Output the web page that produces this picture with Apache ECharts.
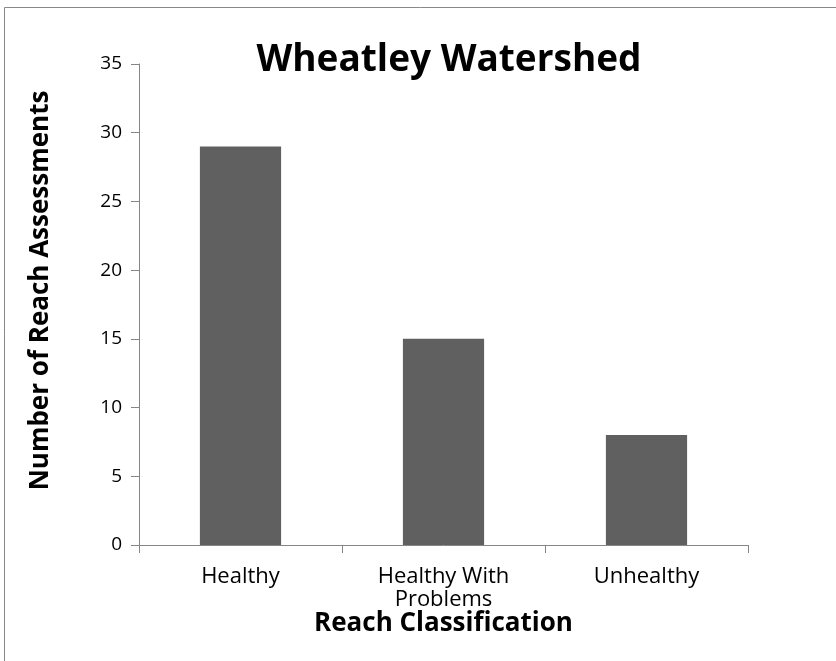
<!DOCTYPE html>
<html><head><meta charset="utf-8">
<script src="https://cdn.jsdelivr.net/npm/echarts@6/dist/echarts.min.js"></script>
<style>html,body{margin:0;padding:0;background:#fff}#c{width:836px;height:661px}</style>
</head><body><div id="c"></div>
<script>
const categories = ['Healthy', 'Healthy With\nProblems', 'Unhealthy'];
const values = [29, 15, 8];
const yTicks = [0, 5, 10, 15, 20, 25, 30, 35];

const font = '"Open Sans", Lato, sans-serif';
const chart = echarts.init(document.getElementById('c'), null, {renderer: 'canvas'});
chart.setOption({
  animation: false,
  backgroundColor: '#fff',
  graphic: [{type: 'rect', shape: {x: 4.5, y: 7.5, width: 840, height: 660}, style: {fill: 'none', stroke: '#888', lineWidth: 1}, silent: true}],
  title: {text: 'Wheatley Watershed', left: 444, top: 37, textAlign: 'center',
    textStyle: {fontFamily: font, fontSize: 37, fontWeight: 'bold', color: '#000'}},
  grid: {left: 139, right: 88, top: 64, bottom: 116},
  xAxis: {type: 'category', data: categories,
    name: 'Reach Classification', nameLocation: 'middle', nameGap: 66, nameMoveOverlap: false,
    nameTextStyle: {fontFamily: font, fontSize: 26, fontWeight: 'bold', color: '#000'},
    axisLine: {lineStyle: {color: '#868686', width: 1}},
    axisTick: {show: true, length: 8, lineStyle: {color: '#868686'}},
    axisLabel: {fontFamily: font, fontSize: 22, color: '#000', margin: 20, lineHeight: 23}},
  yAxis: {type: 'value', min: 0, max: 35, interval: 5,
    name: 'Number of Reach Assessments', nameLocation: 'middle', nameGap: 85,
    nameTextStyle: {fontFamily: font, fontSize: 26, fontWeight: 'bold', color: '#000', padding: [0, 0, 0, 28]},
    axisLine: {show: true, lineStyle: {color: '#868686', width: 1}},
    axisTick: {show: true, length: 8, lineStyle: {color: '#868686'}},
    splitLine: {show: false},
    axisLabel: {fontFamily: font, fontSize: 19, color: '#000', margin: 17,
      formatter: v => yTicks.includes(v) ? String(v) : ''}},
  series: [{type: 'bar', data: values, barWidth: '40%', itemStyle: {color: '#606060'}}]
});
</script></body></html>
